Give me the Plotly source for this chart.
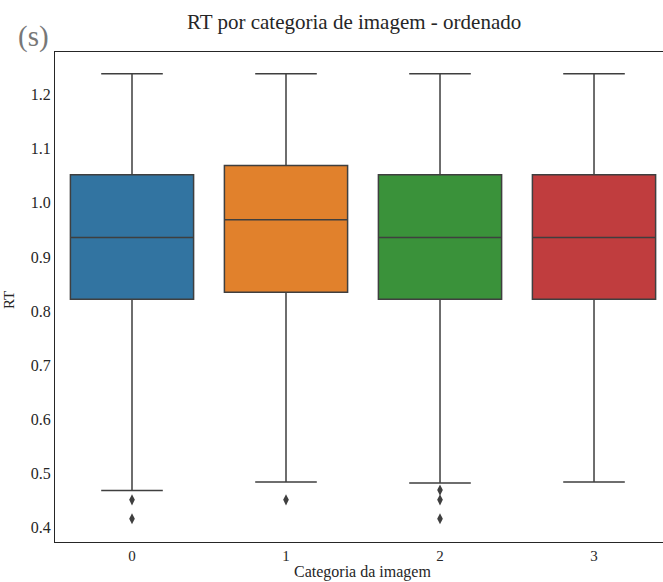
import plotly.graph_objects as go

categories = [0, 1, 2, 3]
q1 = [0.822, 0.835, 0.822, 0.822]
median = [0.936, 0.969, 0.936, 0.936]
q3 = [1.052, 1.069, 1.052, 1.052]
lower_whisker = [0.468, 0.484, 0.482, 0.484]
upper_whisker = [1.239, 1.239, 1.239, 1.239]
outliers = {0: [0.451, 0.416], 1: [0.451], 2: [0.469, 0.451, 0.416], 3: []}
colors = ['#3274a1', '#e1812c', '#3a923a', '#c03d3e']

fig = go.Figure()
for i, c in enumerate(categories):
    fig.add_trace(go.Box(
        x=[c], q1=[q1[i]], median=[median[i]], q3=[q3[i]],
        lowerfence=[lower_whisker[i]], upperfence=[upper_whisker[i]],
        fillcolor=colors[i], line=dict(color='#3f3f3f', width=1.5),
        width=0.8, whiskerwidth=0.5, boxpoints=False, showlegend=False,
        hoverinfo='skip'))
    if outliers[c]:
        fig.add_trace(go.Scatter(
            x=[c] * len(outliers[c]), y=outliers[c], mode='markers',
            marker=dict(symbol='diamond-tall', size=8, color='#3f3f3f'),
            showlegend=False, hoverinfo='skip'))

font = 'Liberation Serif, Times New Roman, serif'
W, H = 663, 582
L, T, B = 55, 52, 542

def px_x(p):
    return (p - L) / (W - L)

def px_y(p):
    return (B - p) / (B - T)

fig.update_layout(
    width=W, height=H,
    margin=dict(l=L, r=0, t=T, b=H - B),
    plot_bgcolor='white', paper_bgcolor='white',
    font=dict(family=font, size=16, color='#262626'),
    xaxis=dict(range=[-0.5, 3.448], tickvals=categories,
               ticktext=[str(c) for c in categories],
               tickfont=dict(size=15),
               showgrid=False, zeroline=False, showline=True, mirror=True,
               linecolor='#262626', linewidth=1.3, ticks='', ticklen=0),
    yaxis=dict(range=[0.373, 1.279], tickvals=[0.4, 0.5, 0.6, 0.7, 0.8, 0.9, 1.0, 1.1, 1.2],
               tickformat='.1f', showgrid=False, zeroline=False, showline=True,
               mirror=False, linecolor='#262626', linewidth=1.3, ticks='',
               ticklen=0),
    annotations=[
        dict(text='RT por categoria de imagem - ordenado', xref='paper', yref='paper',
             x=px_x(354), y=px_y(22), xanchor='center', yanchor='middle',
             showarrow=False, font=dict(size=21, color='#262626', family=font)),
        dict(text='Categoria da imagem', xref='paper', yref='paper',
             x=px_x(362), y=px_y(582), xanchor='center', yanchor='bottom',
             showarrow=False, borderpad=0,
             font=dict(size=16, color='#262626', family=font)),
        dict(text='RT', xref='paper', yref='paper', textangle=-90,
             x=px_x(9), y=px_y(300), xanchor='center', yanchor='middle',
             showarrow=False, font=dict(size=15, color='#262626', family=font)),
        dict(text='(s)', xref='paper', yref='paper',
             x=px_x(33), y=px_y(36), xanchor='center', yanchor='middle',
             showarrow=False, font=dict(size=29, color='#777777', family=font)),
    ],
)

fig.write_html('out.html')
